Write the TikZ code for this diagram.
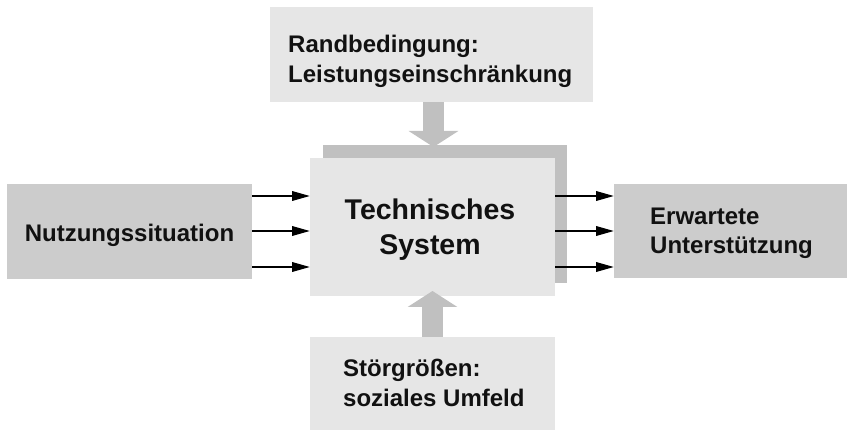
\documentclass[tikz,border=0pt]{standalone}
\usepackage{fontspec}
\setmainfont{Liberation Sans}
\usetikzlibrary{arrows.meta}
\definecolor{lightg}{HTML}{E6E6E6}
\definecolor{midg}{HTML}{CCCCCC}
\definecolor{darkg}{HTML}{C0C0C0}
\definecolor{ink}{HTML}{111111}
\tikzset{
  box/.style={rectangle, inner sep=0pt, draw=none, anchor=north west},
  lbl/.style={inner sep=0pt, text=ink, font=\bfseries\fontsize{24}{29}\selectfont},
  mlbl/.style={inner sep=0pt, text=ink, font=\bfseries\fontsize{28.5}{35}\selectfont},
  thin/.style={line width=2pt, draw=black, -{Triangle[length=18pt,width=9.5pt]}},
  block/.style={line width=21pt, draw=darkg, -{Triangle[length=16pt,width=49pt]}}
}
\begin{document}
\begin{tikzpicture}[x=1pt,y=-1pt]
\useasboundingbox (0,0) rectangle (847,430);
% boxes
\node[box, fill=lightg, minimum width=323pt, minimum height=95pt] (top) at (270,7) {};
\node[box, fill=darkg, minimum width=244pt, minimum height=138pt] (shadow) at (323,145) {};
\node[box, fill=lightg, minimum width=245pt, minimum height=138pt] (main) at (310,158) {};
\node[box, fill=midg, minimum width=245pt, minimum height=95pt] (left) at (7,184) {};
\node[box, fill=midg, minimum width=233pt, minimum height=94pt] (right) at (614,184) {};
\node[box, fill=lightg, minimum width=245pt, minimum height=94pt] (bot) at (310,337) {};
% labels
\node[lbl, anchor=base west] (topA) at (288,53) {Randbedingung:};
\node[lbl, anchor=base west] (topB) at (288,83) {Leistungseinschränkung};
\node[mlbl, anchor=base] (mainA) at (430,220) {Technisches};
\node[mlbl, anchor=base] (mainB) at (430,255) {System};
\node[lbl, anchor=base] (leftA) at (129.5,242) {Nutzungssituation};
\node[lbl, anchor=base west] (rightA) at (650,225) {Erwartete};
\node[lbl, anchor=base west] (rightB) at (650,254) {Unterstützung};
\node[lbl, anchor=base west] (botA) at (343,377) {Störgrößen:};
\node[lbl, anchor=base west] (botB) at (343,407) {soziales Umfeld};
% block arrows
\coordinate (ttip) at (433.5,147);
\coordinate (btip) at (432.5,291);
\draw[block] (top.south -| ttip) -- (ttip);
\draw[block] (bot.north -| btip) -- (btip);
% thin arrows
\foreach \yy in {196,231,267}{
  \draw[thin] (left.east |- {0,\yy}) -- (main.west |- {0,\yy});
  \draw[thin] (main.east |- {0,\yy}) -- (right.west |- {0,\yy});
}
\end{tikzpicture}
\end{document}
